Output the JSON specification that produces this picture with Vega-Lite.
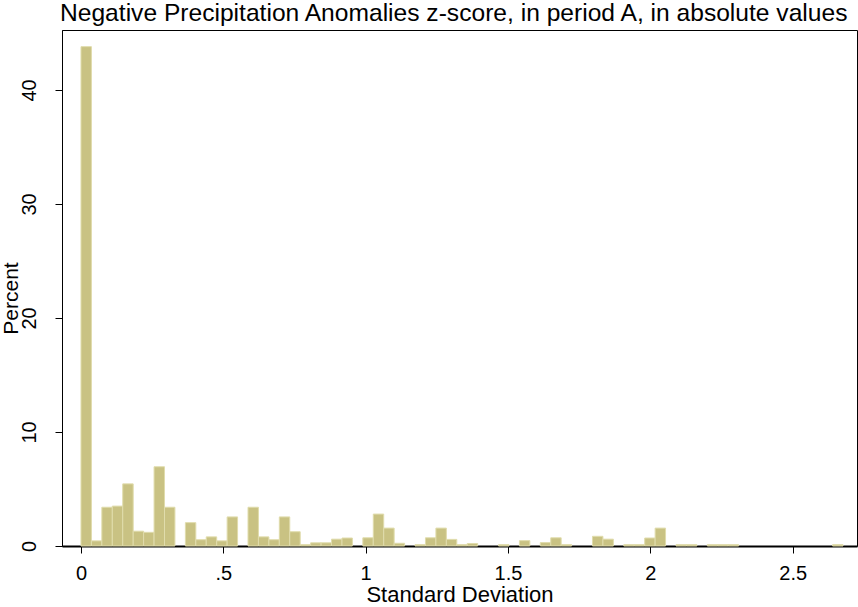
{
  "$schema": "https://vega.github.io/schema/vega-lite/v6.json",
  "width": 795,
  "height": 516,
  "autosize": {"type": "none"},
  "padding": {"left": 62, "top": 30, "right": 1, "bottom": 61},
  "background": "white",
  "config": {
    "view": {"stroke": "#000000", "strokeWidth": 1},
    "font": "Liberation Sans"
  },
  "title": {
    "text": "Negative Precipitation Anomalies z-score, in period A, in absolute values",
    "anchor": "start",
    "frame": "group",
    "fontSize": 24.6,
    "fontWeight": "normal",
    "font": "Liberation Sans",
    "color": "#000000",
    "offset": 3,
    "dx": -2
  },
  "data": {
    "values": [
      {"bin_start": 0.0000, "bin_end": 0.0367, "percent": 43.8},
      {"bin_start": 0.0367, "bin_end": 0.0733, "percent": 0.45},
      {"bin_start": 0.0733, "bin_end": 0.1100, "percent": 3.4},
      {"bin_start": 0.1100, "bin_end": 0.1467, "percent": 3.5},
      {"bin_start": 0.1467, "bin_end": 0.1834, "percent": 5.45},
      {"bin_start": 0.1834, "bin_end": 0.2200, "percent": 1.3},
      {"bin_start": 0.2200, "bin_end": 0.2567, "percent": 1.2},
      {"bin_start": 0.2567, "bin_end": 0.2934, "percent": 6.95},
      {"bin_start": 0.2934, "bin_end": 0.3300, "percent": 3.4},
      {"bin_start": 0.3667, "bin_end": 0.4034, "percent": 2.05},
      {"bin_start": 0.4034, "bin_end": 0.4400, "percent": 0.55},
      {"bin_start": 0.4400, "bin_end": 0.4767, "percent": 0.8},
      {"bin_start": 0.4767, "bin_end": 0.5134, "percent": 0.45},
      {"bin_start": 0.5134, "bin_end": 0.5501, "percent": 2.55},
      {"bin_start": 0.5867, "bin_end": 0.6234, "percent": 3.4},
      {"bin_start": 0.6234, "bin_end": 0.6601, "percent": 0.8},
      {"bin_start": 0.6601, "bin_end": 0.6967, "percent": 0.55},
      {"bin_start": 0.6967, "bin_end": 0.7334, "percent": 2.55},
      {"bin_start": 0.7334, "bin_end": 0.7701, "percent": 1.25},
      {"bin_start": 0.7701, "bin_end": 0.8067, "percent": 0.12},
      {"bin_start": 0.8067, "bin_end": 0.8434, "percent": 0.28},
      {"bin_start": 0.8434, "bin_end": 0.8801, "percent": 0.28},
      {"bin_start": 0.8801, "bin_end": 0.9168, "percent": 0.6},
      {"bin_start": 0.9168, "bin_end": 0.9534, "percent": 0.7},
      {"bin_start": 0.9901, "bin_end": 1.0268, "percent": 0.72},
      {"bin_start": 1.0268, "bin_end": 1.0634, "percent": 2.8},
      {"bin_start": 1.0634, "bin_end": 1.1001, "percent": 1.57},
      {"bin_start": 1.1001, "bin_end": 1.1368, "percent": 0.24},
      {"bin_start": 1.1734, "bin_end": 1.2101, "percent": 0.12},
      {"bin_start": 1.2101, "bin_end": 1.2468, "percent": 0.72},
      {"bin_start": 1.2468, "bin_end": 1.2835, "percent": 1.57},
      {"bin_start": 1.2835, "bin_end": 1.3201, "percent": 0.58},
      {"bin_start": 1.3201, "bin_end": 1.3568, "percent": 0.12},
      {"bin_start": 1.3568, "bin_end": 1.3935, "percent": 0.22},
      {"bin_start": 1.4668, "bin_end": 1.5035, "percent": 0.12},
      {"bin_start": 1.5401, "bin_end": 1.5768, "percent": 0.47},
      {"bin_start": 1.6135, "bin_end": 1.6502, "percent": 0.3},
      {"bin_start": 1.6502, "bin_end": 1.6868, "percent": 0.72},
      {"bin_start": 1.6868, "bin_end": 1.7235, "percent": 0.12},
      {"bin_start": 1.7968, "bin_end": 1.8335, "percent": 0.85},
      {"bin_start": 1.8335, "bin_end": 1.8702, "percent": 0.6},
      {"bin_start": 1.9068, "bin_end": 1.9435, "percent": 0.12},
      {"bin_start": 1.9435, "bin_end": 1.9802, "percent": 0.12},
      {"bin_start": 1.9802, "bin_end": 2.0169, "percent": 0.7},
      {"bin_start": 2.0169, "bin_end": 2.0535, "percent": 1.57},
      {"bin_start": 2.0902, "bin_end": 2.1269, "percent": 0.12},
      {"bin_start": 2.1269, "bin_end": 2.1635, "percent": 0.12},
      {"bin_start": 2.2002, "bin_end": 2.2369, "percent": 0.12},
      {"bin_start": 2.2369, "bin_end": 2.2735, "percent": 0.12},
      {"bin_start": 2.2735, "bin_end": 2.3102, "percent": 0.12},
      {"bin_start": 2.6402, "bin_end": 2.6769, "percent": 0.12}
    ]
  },
  "mark": {"type": "bar", "fill": "#c9c283", "stroke": "#e0dcac", "strokeWidth": 1},
  "encoding": {
    "x": {
      "field": "bin_start",
      "type": "quantitative",
      "scale": {"domain": [-0.0667, 2.726], "nice": false, "zero": false},
      "axis": {
        "title": "Standard Deviation",
        "titleFontSize": 22,
        "titleFontWeight": "normal",
        "titleColor": "#000000",
        "titlePadding": 1,
        "values": [0, 0.5, 1, 1.5, 2, 2.5],
        "labelExpr": "datum.value == 0.5 ? '.5' : format(datum.value, '~g')",
        "labelFontSize": 20,
        "labelColor": "#000000",
        "labelPadding": 10,
        "tickSize": 7,
        "tickColor": "#000000",
        "domainColor": "#000000",
        "domainWidth": 2,
        "grid": false
      }
    },
    "x2": {"field": "bin_end"},
    "y": {
      "field": "percent",
      "type": "quantitative",
      "scale": {"domain": [0, 45.26], "nice": false},
      "axis": {
        "title": "Percent",
        "titleFontSize": 21,
        "titleFontWeight": "normal",
        "titleColor": "#000000",
        "titleX": -41,
        "titleY": 268,
        "titleAngle": -90,
        "titleAlign": "center",
        "titleBaseline": "bottom",
        "values": [0, 10, 20, 30, 40],
        "labelAngle": -90,
        "labelAlign": "center",
        "labelBaseline": "bottom",
        "labelFontSize": 20,
        "labelColor": "#000000",
        "labelPadding": 16,
        "tickSize": 7,
        "tickColor": "#000000",
        "domainColor": "#000000",
        "grid": false
      }
    },
    "y2": {"datum": 0}
  }
}
